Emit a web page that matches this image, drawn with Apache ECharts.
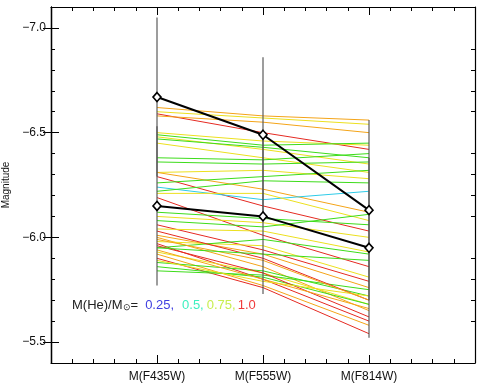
<!DOCTYPE html>
<html>
<head>
<meta charset="utf-8">
<script src="https://cdn.jsdelivr.net/npm/echarts@6/dist/echarts.min.js"></script>
<style>
  html, body { margin: 0; padding: 0; background: #fff; }
  #chart { width: 479px; height: 386px; }
</style>
</head>
<body>
<div id="chart"></div>
<script>
// filters on the x axis (positions 1,2,3)
var filters = ['M(F435W)', 'M(F555W)', 'M(F814W)'];
var filterPos = [1, 2, 3];

// model tracks: magnitude in each filter + colour group
var modelGroup = ['orange','yellow','red','orange','yellow','green','yellow','green','yellow','green',
                  'green','yellow','orange','red','green','cyan','green','yellow','red','green',
                  'yellow','green','red','yellow','orange','orange','yellow','red','green','yellow',
                  'orange','red','green','green','green','red','red','orange','yellow','orange','green'];
var modelF435 = [-6.62,-6.60,-6.59,-6.58,-6.50,-6.49,-6.48,-6.47,-6.45,-6.38,
                 -6.36,-6.31,-6.31,-6.29,-6.26,-6.24,-6.22,-6.21,-6.19,-6.12,
                 -6.10,-6.08,-6.06,-6.04,-6.01,-6.00,-5.98,-5.97,-5.95,-5.93,
                 -5.92,-5.90,-5.88,-5.86,-5.84,-6.03,-5.96,-5.94,-5.89,-5.99,-5.95];
var modelF555 = [-6.58,-6.57,-6.50,-6.55,-6.46,-6.44,-6.42,-6.43,-6.38,-6.37,
                 -6.35,-6.32,-6.23,-6.15,-6.29,-6.18,-6.27,-6.21,-6.01,-6.09,
                 -6.07,-6.05,-5.94,-6.03,-5.92,-5.86,-5.96,-5.80,-5.99,-5.83,
                 -5.77,-5.76,-5.84,-5.81,-5.82,-5.90,-5.83,-5.80,-5.79,-5.89,-5.92];
var modelF814 = [-6.56,-6.54,-6.42,-6.50,-6.44,-6.45,-6.35,-6.38,-6.31,-6.40,
                 -6.36,-6.28,-6.12,-6.03,-6.32,-6.22,-6.26,-6.08,-5.86,-6.06,
                 -6.00,-6.11,-5.79,-5.93,-5.76,-5.65,-5.81,-5.60,-5.92,-5.68,
                 -5.58,-5.54,-5.72,-5.68,-5.75,-5.70,-5.62,-5.66,-5.72,-5.70,-5.89];

// observed points (two stars) and their error half-widths
var starA = [-6.67, -6.49, -6.13];
var starB = [-6.15, -6.10, -5.95];
var errHalf = [0.38, 0.37, 0.43];

var yMajor = [-7.0, -6.5, -6.0, -5.5];
var yMinor = [-7.1,-6.9,-6.8,-6.7,-6.6,-6.4,-6.3,-6.2,-6.1,-5.9,-5.8,-5.7,-5.6,-5.4];

var groupColor = {
  green: '#3ddc1a', yellow: '#ece01e', orange: '#f4a418', red: '#e52a22', cyan: '#2ecbe8'
};

var chart = echarts.init(document.getElementById('chart'));
var font = 'Liberation Sans, DejaVu Sans, sans-serif';

var series = [];
for (var i = 0; i < modelF435.length; i++) {
  series.push({
    type: 'line', silent: true, showSymbol: false, symbol: 'none',
    data: [[filterPos[0], modelF435[i]], [filterPos[1], modelF555[i]], [filterPos[2], modelF814[i]]],
    lineStyle: { color: groupColor[modelGroup[i]], width: 1 },
    z: 2
  });
}

var errData = [];
[starA, starB].forEach(function (s) {
  for (var k = 0; k < 3; k++) errData.push([filterPos[k], s[k] - errHalf[k], s[k] + errHalf[k]]);
});
series.push({
  type: 'custom', silent: true, z: 3,
  data: errData,
  renderItem: function (params, api) {
    var p1 = api.coord([api.value(0), api.value(1)]);
    var p2 = api.coord([api.value(0), api.value(2)]);
    return { type: 'line', shape: { x1: p1[0], y1: p1[1], x2: p2[0], y2: p2[1] },
             style: { stroke: 'rgba(80,80,80,0.75)', lineWidth: 1.5 } };
  }
});

[starA, starB].forEach(function (s) {
  series.push({
    type: 'line', silent: true, z: 5,
    data: filterPos.map(function (x, k) { return [x, s[k]]; }),
    symbol: 'diamond', symbolSize: [8, 9], showSymbol: true,
    itemStyle: { color: '#fff', borderColor: '#000', borderWidth: 1.6 },
    lineStyle: { color: '#000', width: 2 }
  });
});

function xAx(pos, showLabel) {
  return {
    type: 'value', position: pos, min: 0, max: 4, interval: 1,
    axisLine: { lineStyle: { color: '#000', width: 1.2 } },
    axisTick: { inside: true, length: 8, lineStyle: { color: '#000' } },
    minorTick: { show: true, splitNumber: 5, length: 4, lineStyle: { color: '#000' } },
    splitLine: { show: false },
    axisLabel: {
      show: showLabel, margin: 8, color: '#111', fontSize: 12, fontFamily: font,
      formatter: function (v) { var j = filterPos.indexOf(v); return j >= 0 ? filters[j] : ''; }
    }
  };
}
function yAx(pos, vals, len, showLabel) {
  return {
    type: 'value', position: pos, min: -7.1, max: -5.4, inverse: true,
    name: showLabel ? 'Magnitude' : '', nameLocation: 'middle', nameGap: 37, nameRotate: 90,
    nameTextStyle: { fontSize: 10, color: '#111', fontFamily: font },
    axisLine: { lineStyle: { color: '#000', width: 1.2 } },
    axisTick: { inside: true, length: len, customValues: vals, lineStyle: { color: '#000' } },
    splitLine: { show: false },
    axisLabel: {
      show: showLabel, customValues: yMajor, margin: 5, color: '#111', fontSize: 12, fontFamily: font,
      formatter: function (v) { return '\u2212' + Math.abs(v).toFixed(1); }
    }
  };
}

chart.setOption({
  animation: false,
  grid: { left: 51, right: 4, top: 7, bottom: 23, containLabel: false, outerBoundsMode: 'none' },
  xAxis: [xAx('bottom', true), xAx('top', false)],
  yAxis: [yAx('left', yMajor, 8, true), yAx('right', yMajor, 8, false),
          yAx('left', yMinor, 4, false), yAx('right', yMinor, 4, false)],
  graphic: [{
    type: 'text', left: 72, top: 299, z: 10,
    style: {
      text: 'M(He)/M{sun|\u2299}={b|0.25,}{c|0.5,}{y|0.75,}{r|1.0}',
      font: '13px ' + font, fill: '#222',
      rich: {
        sun: { fontSize: 9, verticalAlign: 'bottom', padding: [5, 0, 0, 0], fill: '#222' },
        b: { fill: '#3f3fe0', fontSize: 13, padding: [0, 0, 0, 7] },
        c: { fill: '#3ef0c0', fontSize: 13, padding: [0, 0, 0, 8] },
        y: { fill: '#c8ee50', fontSize: 13, padding: [0, 0, 0, 3] },
        r: { fill: '#f03a3a', fontSize: 13, padding: [0, 0, 0, 2] }
      }
    }
  }],
  series: series
});
</script>
</body>
</html>
